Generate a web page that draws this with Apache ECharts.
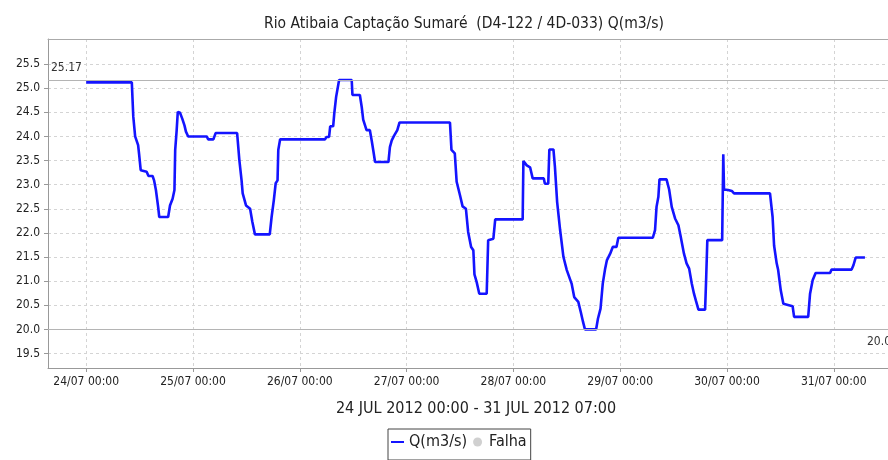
<!DOCTYPE html>
<html>
<head>
<meta charset="utf-8">
<script src="https://cdn.jsdelivr.net/npm/echarts@6/dist/echarts.min.js"></script>
<style>
  html, body { margin: 0; padding: 0; background: #fff; }
  #chart { width: 888px; height: 460px; }
</style>
</head>
<body>
<div id="chart"></div>
<script>
// leituras de vazão (hora local, m3/s)
const times = [
  '2012-07-24 00:00', '2012-07-24 10:15', '2012-07-24 10:35', '2012-07-24 11:00', '2012-07-24 11:40',
  '2012-07-24 11:55', '2012-07-24 12:15', '2012-07-24 13:35', '2012-07-24 14:00', '2012-07-24 14:55',
  '2012-07-24 15:15', '2012-07-24 15:40', '2012-07-24 16:10', '2012-07-24 16:25', '2012-07-24 18:25',
  '2012-07-24 18:50', '2012-07-24 19:25', '2012-07-24 19:50', '2012-07-24 20:00', '2012-07-24 20:20',
  '2012-07-24 20:35', '2012-07-24 21:05', '2012-07-24 21:35', '2012-07-24 22:05', '2012-07-24 22:25',
  '2012-07-24 22:55', '2012-07-25 03:05', '2012-07-25 03:25', '2012-07-25 04:35', '2012-07-25 05:05',
  '2012-07-25 09:55', '2012-07-25 10:25', '2012-07-25 10:55', '2012-07-25 11:10', '2012-07-25 11:55',
  '2012-07-25 12:50', '2012-07-25 13:20', '2012-07-25 13:55', '2012-07-25 17:15', '2012-07-25 17:40',
  '2012-07-25 18:10', '2012-07-25 18:35', '2012-07-25 19:00', '2012-07-25 19:10', '2012-07-25 19:35',
  '2012-07-26 05:40', '2012-07-26 06:00', '2012-07-26 06:35', '2012-07-26 06:50', '2012-07-26 07:30',
  '2012-07-26 07:45', '2012-07-26 08:10', '2012-07-26 08:50', '2012-07-26 11:40', '2012-07-26 11:50',
  '2012-07-26 13:30', '2012-07-26 13:55', '2012-07-26 14:15', '2012-07-26 15:00', '2012-07-26 15:45',
  '2012-07-26 16:10', '2012-07-26 16:30', '2012-07-26 16:55', '2012-07-26 19:55', '2012-07-26 20:15',
  '2012-07-26 20:40', '2012-07-26 21:10', '2012-07-26 21:55', '2012-07-26 22:25', '2012-07-27 09:45',
  '2012-07-27 10:05', '2012-07-27 10:50', '2012-07-27 11:15', '2012-07-27 12:00', '2012-07-27 12:35',
  '2012-07-27 13:20', '2012-07-27 13:50', '2012-07-27 14:30', '2012-07-27 15:00', '2012-07-27 15:15',
  '2012-07-27 15:45', '2012-07-27 16:20', '2012-07-27 18:00', '2012-07-27 18:20', '2012-07-27 19:30',
  '2012-07-27 19:55', '2012-07-28 02:05', '2012-07-28 02:15', '2012-07-28 03:00', '2012-07-28 03:45',
  '2012-07-28 04:20', '2012-07-28 06:50', '2012-07-28 07:05', '2012-07-28 07:50', '2012-07-28 08:05',
  '2012-07-28 09:00', '2012-07-28 09:20', '2012-07-28 09:50', '2012-07-28 10:30', '2012-07-28 11:15',
  '2012-07-28 12:00', '2012-07-28 13:05', '2012-07-28 13:40', '2012-07-28 14:35', '2012-07-28 15:10',
  '2012-07-28 15:40', '2012-07-28 16:05', '2012-07-28 18:35', '2012-07-28 19:00', '2012-07-28 19:35',
  '2012-07-28 20:05', '2012-07-28 20:35', '2012-07-28 21:00', '2012-07-28 21:45', '2012-07-28 22:20',
  '2012-07-28 23:10', '2012-07-28 23:35', '2012-07-29 07:20', '2012-07-29 07:50', '2012-07-29 08:10',
  '2012-07-29 08:35', '2012-07-29 08:50', '2012-07-29 10:25', '2012-07-29 11:00', '2012-07-29 11:35',
  '2012-07-29 12:20', '2012-07-29 13:05', '2012-07-29 13:35', '2012-07-29 14:20', '2012-07-29 14:55',
  '2012-07-29 15:30', '2012-07-29 16:05', '2012-07-29 16:35', '2012-07-29 17:00', '2012-07-29 17:35',
  '2012-07-29 19:05', '2012-07-29 19:20', '2012-07-29 19:35', '2012-07-29 22:55', '2012-07-29 23:10',
  '2012-07-29 23:20', '2012-07-30 00:15', '2012-07-30 01:05', '2012-07-30 01:35', '2012-07-30 09:40',
  '2012-07-30 10:15', '2012-07-30 10:35', '2012-07-30 11:10', '2012-07-30 11:30', '2012-07-30 12:05',
  '2012-07-30 12:40', '2012-07-30 14:45', '2012-07-30 15:05', '2012-07-30 18:15', '2012-07-30 18:40',
  '2012-07-30 19:15', '2012-07-30 19:55', '2012-07-30 23:10', '2012-07-30 23:30', '2012-07-31 04:00',
  '2012-07-31 04:25', '2012-07-31 04:55', '2012-07-31 07:00'
];
const vazao = [
  25.12, 25.12, 24.41, 24.00, 23.82,
  23.61, 23.30, 23.27, 23.18, 23.18,
  23.09, 22.89, 22.54, 22.33, 22.33,
  22.57, 22.71, 22.89, 23.72, 24.13,
  24.51, 24.49, 24.37, 24.23, 24.10,
  24.00, 24.00, 23.94, 23.94, 24.07,
  24.07, 23.51, 23.09, 22.82, 22.57,
  22.50, 22.23, 21.97, 21.97, 22.33,
  22.68, 23.03, 23.09, 23.72, 23.94,
  23.94, 23.99, 23.99, 24.21, 24.21,
  24.48, 24.82, 25.17, 25.17, 24.86,
  24.86, 24.61, 24.35, 24.13, 24.13,
  23.91, 23.72, 23.47, 23.47, 23.78,
  23.92, 24.01, 24.13, 24.29, 24.29,
  23.72, 23.65, 23.06, 22.78, 22.55,
  22.50, 22.02, 21.71, 21.64, 21.14,
  20.98, 20.74, 20.74, 21.85, 21.88,
  22.28, 22.28, 23.49, 23.40, 23.36,
  23.13, 23.13, 23.02, 23.02, 23.73,
  23.73, 23.37, 22.64, 22.06, 21.50,
  21.23, 20.95, 20.67, 20.57, 20.35,
  20.15, 20.00, 20.00, 20.22, 20.43,
  20.95, 21.24, 21.43, 21.57, 21.71,
  21.71, 21.90, 21.90, 22.06, 22.54,
  22.75, 23.11, 23.11, 22.90, 22.54,
  22.30, 22.16, 21.93, 21.57, 21.37,
  21.26, 20.95, 20.74, 20.60, 20.41,
  20.41, 21.09, 21.85, 21.85, 23.63,
  22.90, 22.89, 22.87, 22.82, 22.82,
  22.33, 21.74, 21.37, 21.23, 20.81,
  20.53, 20.48, 20.26, 20.26, 20.74,
  21.02, 21.17, 21.17, 21.24, 21.24,
  21.33, 21.49, 21.49
];
const tickDays = [
  '2012-07-24 00:00', '2012-07-25 00:00', '2012-07-26 00:00', '2012-07-27 00:00',
  '2012-07-28 00:00', '2012-07-29 00:00', '2012-07-30 00:00', '2012-07-31 00:00'
];
const yTicks = [19.5, 20.0, 20.5, 21.0, 21.5, 22.0, 22.5, 23.0, 23.5, 24.0, 24.5, 25.0, 25.5];
const maxValue = 25.17;
const minValue = 20.0;

const titleText = 'Rio Atibaia Captação Sumaré  (D4-122 / 4D-033) Q(m3/s)';
const periodText = '24 JUL 2012 00:00 - 31 JUL 2012 07:00';

const FONT = '"DejaVu Sans Condensed", "DejaVu Sans", sans-serif';

const toMs = s => echarts.time.parse(s).getTime();
const tickTimes = tickDays.map(toMs);
const xMin = toMs('2012-07-23 15:25');
const xMax = toMs('2012-07-31 12:11');

const chart = echarts.init(document.getElementById('chart'));

chart.setOption({
  animation: false,
  backgroundColor: '#fff',
  title: {
    text: titleText,
    left: 459,
    top: 11,
    textAlign: 'center',
    textStyle: { fontFamily: FONT, fontSize: 15.5, fontWeight: 'normal', color: '#222' }
  },
  legend: {
    left: 388,
    top: 429,
    padding: [5, 4, 10, 3],
    itemGap: 6,
    itemWidth: 13,
    itemHeight: 9,
    borderColor: '#444',
    borderWidth: 1,
    textStyle: { fontFamily: FONT, fontSize: 16, color: '#222' },
    data: [
      { name: 'Q(m3/s)', icon: 'path://M0,0 H13 V2 H0 Z' },
      { name: 'Falha', icon: 'circle' }
    ]
  },
  grid: {
    left: 48,
    top: 39,
    right: 0,
    bottom: 92
  },
  xAxis: [
    {
      type: 'value',
      min: xMin,
      max: xMax,
      name: periodText,
      nameLocation: 'middle',
      nameGap: 33,
      nameTextStyle: { fontFamily: FONT, fontSize: 16, color: '#222', padding: [0, 0, 0, 16] },
      axisLine: { lineStyle: { color: '#999' } },
      axisTick: { customValues: tickTimes, length: 4, lineStyle: { color: '#999' } },
      axisLabel: {
        customValues: tickTimes,
        fontFamily: FONT,
        fontSize: 12,
        color: '#222',
        margin: 8,
        formatter: v => echarts.time.format(v, '{dd}/{MM} {HH}:{mm}')
      },
      splitLine: { show: true, lineStyle: { color: '#d4d4d4', type: [3, 3] } }
    },
    {
      // borda superior da área do gráfico
      type: 'value',
      position: 'top',
      min: xMin,
      max: xMax,
      axisLine: { show: true, lineStyle: { color: '#aaa' } },
      axisTick: { show: false },
      axisLabel: { show: false },
      splitLine: { show: false }
    }
  ],
  yAxis: {
    type: 'value',
    min: 19.2,
    max: 26.02,
    axisLine: { show: true, lineStyle: { color: '#999' } },
    axisTick: { show: true, customValues: yTicks, length: 4, lineStyle: { color: '#999' } },
    axisLabel: {
      customValues: yTicks,
      fontFamily: FONT,
      fontSize: 12,
      color: '#222',
      margin: 8,
      formatter: v => v.toFixed(1)
    },
    splitLine: { show: true, lineStyle: { color: '#d4d4d4', type: [3, 3] } }
  },
  series: [
    {
      name: 'Q(m3/s)',
      type: 'line',
      data: times.map((t, i) => [toMs(t), vazao[i]]),
      symbol: 'none',
      color: '#1414ff',
      lineStyle: { color: '#1414ff', width: 2.6 },
      markLine: {
        silent: true,
        symbol: 'none',
        lineStyle: { color: '#b4b4b4', type: 'solid', width: 1 },
        label: { fontFamily: FONT, fontSize: 12, color: '#333' },
        data: [
          {
            yAxis: maxValue,
            label: { position: 'insideStartTop', formatter: maxValue.toFixed(2), distance: [3, 6] }
          },
          {
            yAxis: minValue,
            label: { position: 'insideEndBottom', formatter: minValue.toFixed(1), distance: [-3, 6] }
          }
        ]
      }
    },
    {
      name: 'Falha',
      type: 'scatter',
      data: [],
      symbol: 'circle',
      color: '#c4c4c4'
    }
  ]
});
</script>
</body>
</html>
